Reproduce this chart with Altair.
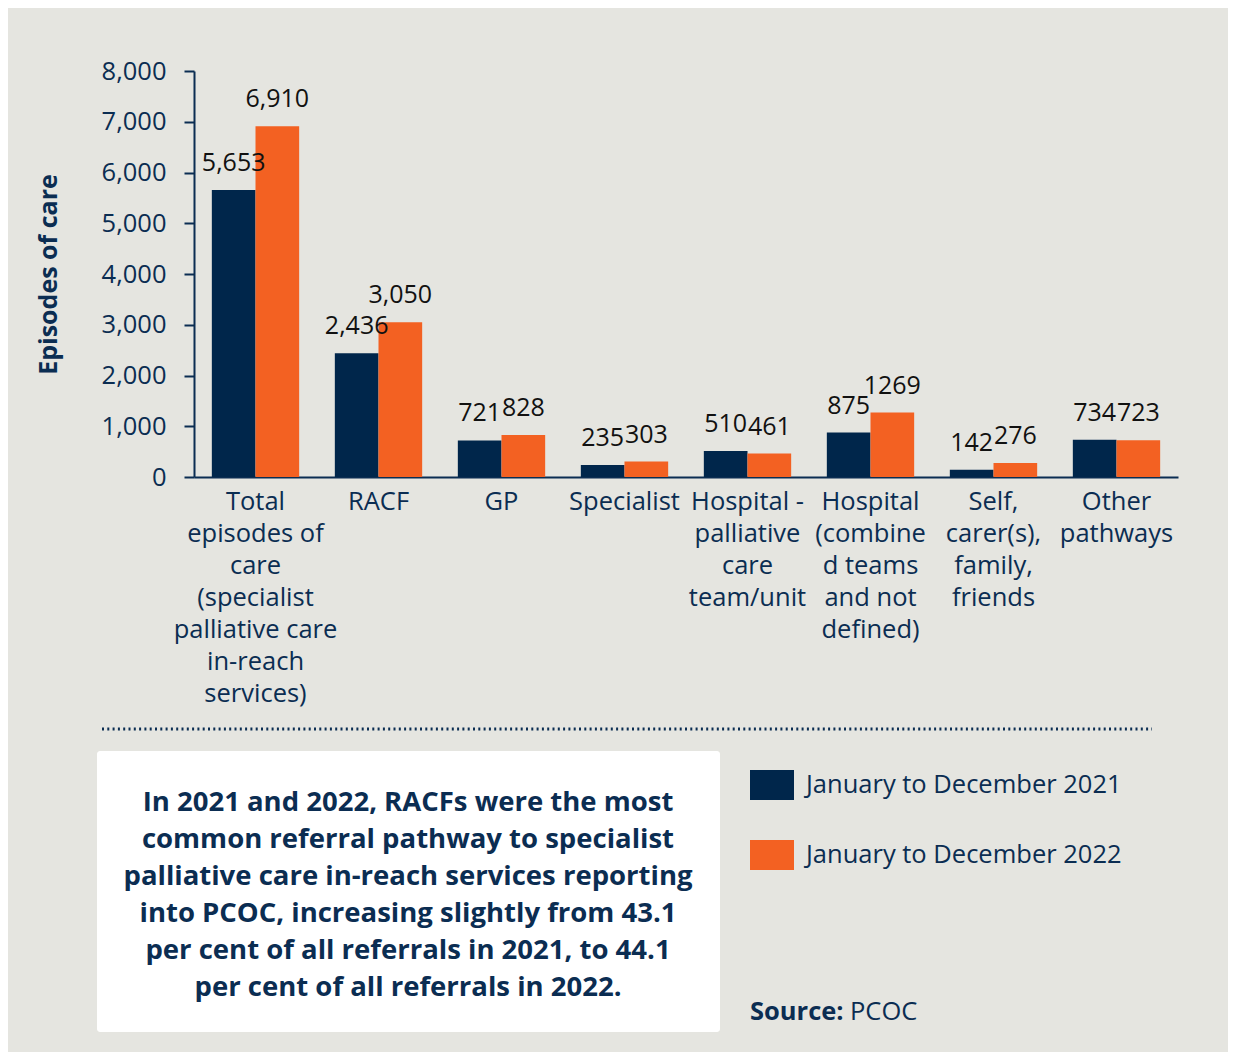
import altair as alt
import pandas as pd

# ---------------- data ----------------
categories = [
    "Total|episodes of|care|(specialist|palliative care|in-reach|services)",
    "RACF",
    "GP",
    "Specialist",
    "Hospital -|palliative|care|team/unit",
    "Hospital|(combine|d teams|and not|defined)",
    "Self,|carer(s),|family,|friends",
    "Other|pathways",
]
series = ["January to December 2021", "January to December 2022"]
values_2021 = [5653, 2436, 721, 235, 510, 875, 142, 734]
values_2022 = [6910, 3050, 828, 303, 461, 1269, 276, 723]
labels_2021 = ["5,653", "2,436", "721", "235", "510", "875", "142", "734"]
labels_2022 = ["6,910", "3,050", "828", "303", "461", "1269", "276", "723"]
y_ticks = [0, 1000, 2000, 3000, 4000, 5000, 6000, 7000, 8000]
y_title = "Episodes of care"
summary_lines = [
    "In 2021 and 2022, RACFs were the most",
    "common referral pathway to specialist",
    "palliative care in-reach services reporting",
    "into PCOC, increasing slightly from 43.1",
    "per cent of all referrals in 2021, to 44.1",
    "per cent of all referrals in 2022.",
]
source_label = "Source:"
source_value = "PCOC"

# ---------------- styles ----------------
NAVY = "#0b2d52"
BAR_COLORS = ["#00264b", "#f36122"]
BG = "#e5e5e0"
FONT = "Open Sans"

rows = []
for c, v, l in zip(categories, values_2021, labels_2021):
    rows.append({"category": c, "series": series[0], "value": v, "label": l})
for c, v, l in zip(categories, values_2022, labels_2022):
    rows.append({"category": c, "series": series[1], "value": v, "label": l})
df = pd.DataFrame(rows)

x_enc = alt.X(
    "category:N",
    sort=categories,
    scale=alt.Scale(paddingInner=0.29, paddingOuter=0.145),
    axis=alt.Axis(
        title=None,
        labelExpr="split(datum.label, '|')",
        labelAngle=0,
        labelFontSize=25.5,
        labelFont=FONT,
        labelColor=NAVY,
        labelLineHeight=32,
        labelPadding=12,
        labelBaseline="top",
        ticks=False,
        domainColor=NAVY,
        domainWidth=2,
        labelLimit=400,
        labelOverlap=False,
    ),
)
xo_enc = alt.XOffset("series:N", sort=series)
y_enc = alt.Y(
    "value:Q",
    scale=alt.Scale(domain=[0, 8000]),
    axis=alt.Axis(
        values=y_ticks,
        format=",d",
        title=y_title,
        titleFontSize=25,
        titleFont=FONT,
        titleFontWeight="bold",
        titleColor=NAVY,
        titlePadding=40,
        labelFontSize=25.5,
        labelFont=FONT,
        labelColor=NAVY,
        labelPadding=18,
        tickSize=10,
        tickWidth=2,
        tickColor=NAVY,
        domainColor=NAVY,
        domainWidth=2,
        grid=False,
    ),
)
color_enc = alt.Color(
    "series:N",
    sort=series,
    scale=alt.Scale(domain=series, range=BAR_COLORS),
    legend=alt.Legend(
        title=None,
        orient="none",
        legendX=556,
        legendY=692,
        symbolType="M-1,-0.68H1V0.68H-1Z",
        symbolSize=1936,
        symbolStrokeWidth=0,
        symbolOpacity=1,
        labelFontSize=25.5,
        labelFont=FONT,
        labelColor=NAVY,
        labelOffset=12,
        rowPadding=33,
        padding=0,
        labelLimit=500,
    ),
)

base = alt.Chart(df)
bars = base.mark_bar().encode(x=x_enc, xOffset=xo_enc, y=y_enc, color=color_enc)
value_text = base.mark_text(
    dy=-19, baseline="alphabetic", fontSize=25, font=FONT, color="#111111"
).encode(x=x_enc, xOffset=xo_enc, y=y_enc, text="label:N")

one = alt.Chart(pd.DataFrame({"k": [0]}))

dotted = one.mark_rule(
    strokeDash=[2, 3.3], strokeWidth=3, color=NAVY
).encode(x=alt.value(-92), x2=alt.value(958), y=alt.value(658))

white_box = one.mark_rect(color="white", cornerRadius=3).encode(
    x=alt.value(-97), x2=alt.value(526), y=alt.value(680), y2=alt.value(961)
)

summary = one.mark_text(
    text=summary_lines,
    align="center",
    baseline="alphabetic",
    fontSize=27.5,
    font=FONT,
    fontWeight="bold",
    color=NAVY,
    lineHeight=37,
).encode(x=alt.value(214), y=alt.value(740))

src1 = one.mark_text(
    text=source_label, align="left", baseline="alphabetic", fontSize=25.5,
    font=FONT, fontWeight="bold", color=NAVY,
).encode(x=alt.value(556), y=alt.value(949))
src2 = one.mark_text(
    text=source_value, align="left", baseline="alphabetic", fontSize=25.5,
    font=FONT, color=NAVY,
).encode(x=alt.value(656), y=alt.value(949))

chart = alt.layer(bars, value_text, dotted, white_box, summary, src1, src2).properties(
    width=984,
    height=406,
    autosize=alt.AutoSizeParams(type="none"),
    padding={"left": 186, "top": 63, "right": 50, "bottom": 575},
    background=BG,
).configure_view(strokeWidth=0)

chart.save("out.html", embed_options={"renderer": "svg", "actions": False})
